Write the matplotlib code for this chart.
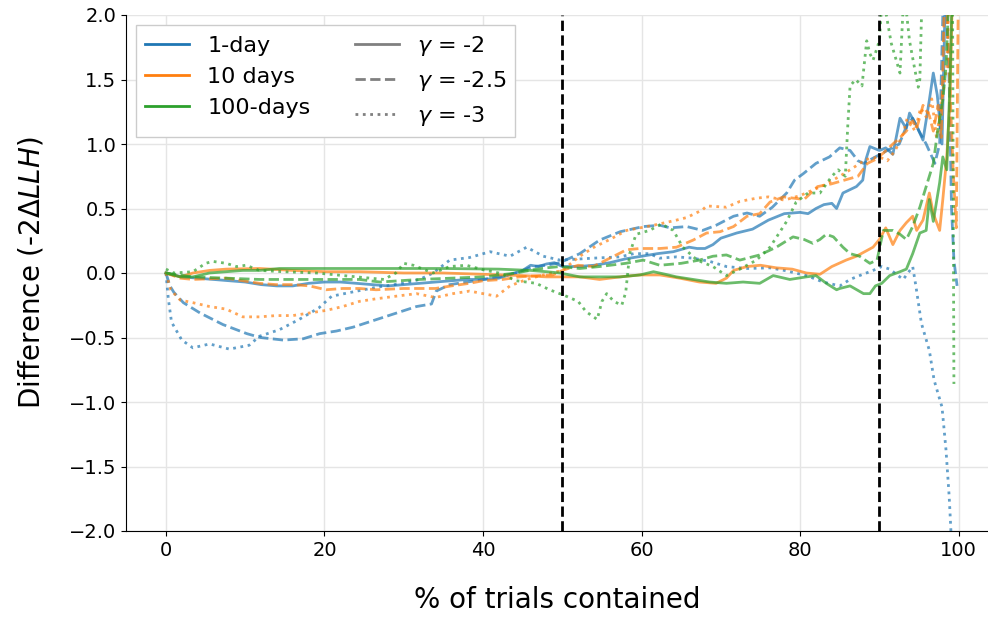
import numpy as np
import matplotlib
matplotlib.use("Agg")
import matplotlib.pyplot as plt
from matplotlib.lines import Line2D

# values, x in % of trials, y in -2*dLLH
x_b2 = [0, 2, 4, 6, 8, 10, 12, 14, 16, 18, 20, 22, 24, 26, 28, 30, 32, 34, 36, 38, 40, 42, 44, 45, 46,
        47, 48, 49, 50, 52, 54, 56, 58, 60, 62, 64, 66, 67, 68, 69, 70, 72, 74, 76, 78, 80, 81, 82, 83,
        84, 84.6, 85.4, 87.1, 87.9, 88.3, 88.8, 90, 90.8, 91.7, 92.6, 93.4, 93.8, 94.7, 95.5, 96.3, 96.8,
        97.3, 97.9, 98.4, 99, 99.6]
y_b2 = [0, -0.03, -0.04, -0.05, -0.06, -0.07, -0.09, -0.1, -0.1, -0.08, -0.07, -0.07, -0.08, -0.09, -0.1,
        -0.09, -0.08, -0.07, -0.06, -0.05, -0.05, -0.04, 0.0, 0.02, 0.06, 0.05, 0.07, 0.08, 0.05, 0.05, 0.06,
        0.08, 0.11, 0.13, 0.15, 0.165, 0.2, 0.19, 0.19, 0.22, 0.27, 0.31, 0.34, 0.41, 0.46, 0.47, 0.46, 0.5,
        0.53, 0.54, 0.5, 0.62, 0.67, 0.72, 0.88, 0.98, 0.95, 0.97, 0.92, 1.2, 1.12, 1.24, 1.14, 1.03, 1.34,
        1.55, 1.38, 1.0, 2.4, 2.6, 2.5]

x_b25 = [0, 0.5, 1, 2.2, 4.3, 7.2, 10.2, 11.9, 14.8, 17.3, 19.4, 21.5, 23.6, 26.6, 29.1, 31.6, 33.5, 34.1,
         35.8, 38, 40, 42, 44.2, 46.3, 48, 49.7, 52.2, 54.7, 57.3, 60.2, 62.3, 63.6, 65.7, 67.7, 69.4, 71.6,
         73.3, 74.9, 76.5, 78.3, 79.3, 80.4, 82, 83.7, 85, 86.3, 87.3, 88, 89.5, 91, 92.5, 93.5, 94.2, 95,
         95.9, 97, 97.6, 98.2, 98.8, 99.1, 99.4, 99.8]
y_b25 = [0, -0.1, -0.15, -0.23, -0.31, -0.4, -0.47, -0.5, -0.52, -0.51, -0.47, -0.45, -0.42, -0.36, -0.31,
         -0.26, -0.24, -0.14, -0.09, -0.07, -0.05, -0.03, 0.0, 0.05, 0.06, 0.08, 0.15, 0.255, 0.32, 0.36,
         0.37, 0.35, 0.36, 0.33, 0.37, 0.44, 0.465, 0.44, 0.51, 0.62, 0.72, 0.77, 0.85, 0.9, 0.97, 0.95,
         0.87, 0.85, 0.9, 0.95, 1.0, 1.15, 1.2, 1.1, 1.0, 0.85, 1.0, 2.5, 1.5, 0.5, 0.1, -0.1]

x_b3 = [0, 0.3, 0.7, 2, 3.4, 5.5, 8, 10.5, 11.8, 14.3, 16.8, 19.3, 20.9, 23.3, 26.6, 29.9, 32, 33.7, 35.8,
        38.3, 40.9, 43.4, 45.5, 47.6, 49.7, 53.9, 57.3, 59, 61, 62.3, 64.4, 66.5, 68.6, 70.7, 73.3, 76.2, 78,
        80.8, 82.9, 85, 86.3, 87.5, 89.2, 90.3, 91.3, 93, 94.2, 94.6, 95.3, 96.3, 96.9, 97.9, 98.4, 98.8,
        99.0, 99.3]
y_b3 = [0, -0.2, -0.38, -0.52, -0.58, -0.55, -0.59, -0.56, -0.49, -0.44, -0.36, -0.27, -0.18, -0.15, -0.11,
        -0.08, -0.05, 0.0, 0.1, 0.12, 0.165, 0.13, 0.2, 0.13, 0.1, 0.115, 0.125, 0.15, 0.15, 0.115, 0.125,
        0.115, 0.09, 0.05, 0.035, 0.04, 0.02, -0.02, -0.07, -0.1, -0.05, -0.02, 0.02, 0.05, 0.03, -0.05,
        0.05, -0.1, -0.39, -0.6, -0.83, -1.04, -1.37, -1.73, -1.97, -2.4]

x_o2 = [0, 1.8, 3.4, 5.5, 7.6, 11.8, 16, 20.2, 24.4, 30, 35, 40, 45, 48, 49.7, 52.2, 54.7, 57.3, 59.8, 62.3,
        64.8, 67.3, 69.4, 70.7, 71.6, 73.3, 75, 77, 79, 80.8, 82.5, 84, 85.8, 87.1, 88.3, 89.2, 90, 90.8,
        91.7, 92.6, 93.4, 94.2, 94.7, 95.5, 96.3, 96.8, 97.6, 98, 98.5, 98.9, 99.3, 99.6]
y_o2 = [0, -0.03, 0, 0.02, 0.03, 0.035, 0.02, 0.01, 0.01, 0.0, 0.0, -0.01, -0.02, -0.03, -0.03, -0.03,
        -0.05, -0.03, -0.015, -0.015, -0.04, -0.07, -0.08, -0.04, 0.02, 0.05, 0.06, 0.04, 0.03, 0.0, -0.01,
        0.05, 0.1, 0.13, 0.17, 0.2, 0.26, 0.35, 0.22, 0.33, 0.39, 0.44, 0.33, 0.41, 0.62, 0.46, 0.33, 0.57,
        0.9, 1.34, 2.4, 2.6]

x_o25 = [0, 1.8, 3.4, 7.6, 11.8, 13.9, 16, 18.1, 20.2, 22.3, 24.4, 26.5, 30, 34, 36, 38.3, 40, 42.5, 44.6,
         47, 48.8, 50, 52, 53.9, 56, 58.1, 59.8, 62.3, 64.4, 66.5, 68.2, 69.9, 71.6, 73.3, 74.9, 76.2, 77.9,
         80.5, 82.2, 83.9, 85.6, 87.3, 88.5, 89.5, 90.5, 91.7, 92.6, 93.4, 94.2, 94.7, 95.5, 96.3, 96.8,
         97.4, 97.8, 98.3, 98.8, 99.3, 99.7, 100]
y_o25 = [0, -0.04, -0.05, -0.04, -0.08, -0.09, -0.09, -0.1, -0.13, -0.12, -0.12, -0.13, -0.12, -0.12, -0.1,
         -0.08, -0.06, -0.05, -0.03, -0.02, -0.015, 0.02, 0.06, 0.05, 0.115, 0.18, 0.19, 0.19, 0.2, 0.255,
         0.31, 0.32, 0.36, 0.44, 0.46, 0.55, 0.59, 0.57, 0.67, 0.69, 0.72, 0.75, 0.85, 0.88, 0.93, 1.0, 1.05,
         1.1, 1.18, 1.12, 1.3, 1.22, 1.1, 1.3, 1.05, 2.4, 1.6, 0.8, 0.35, 2.5]

x_o3 = [0, 0.6, 1.8, 3.4, 5.5, 7.6, 9.7, 11.8, 13.9, 16, 18.1, 20.2, 22.3, 24.4, 26.5, 29, 31.6, 34, 36.2,
        38.3, 40, 41.7, 43.4, 45.5, 47.6, 50, 52.2, 54, 56, 58.1, 61.5, 64.4, 65.7, 67.7, 68.2, 70.7, 72.4,
        74.5, 76, 78, 80, 81.5, 83, 85, 86.3, 88.3, 90, 91, 92, 93, 93.5, 94.5, 95.2, 96, 96.6, 97.2, 97.8,
        98.5, 99, 99.5]
y_o3 = [0, -0.13, -0.21, -0.23, -0.26, -0.28, -0.34, -0.34, -0.33, -0.33, -0.31, -0.29, -0.26, -0.22, -0.2,
        -0.18, -0.16, -0.19, -0.16, -0.14, -0.16, -0.18, -0.1, -0.05, -0.015, 0.02, 0.13, 0.2, 0.26, 0.33,
        0.37, 0.41, 0.43, 0.49, 0.52, 0.51, 0.555, 0.58, 0.59, 0.565, 0.6, 0.64, 0.68, 0.75, 0.8, 0.88, 0.9,
        0.87, 0.95, 1.08, 1.2, 1.1, 1.28, 1.2, 1.35, 1.05, 1.3, 1.6, 2.5, 2.6]

x_g2 = [0, 1.8, 3.4, 5.5, 7.6, 9.7, 11.8, 14.3, 20, 27, 35, 42, 46, 48, 49.7, 52.2, 54.7, 57.3, 59.8, 61.5,
        63, 64.4, 66.5, 68.6, 70.7, 72.8, 74.9, 76.6, 78.7, 80.8, 82, 83.3, 84.6, 85, 86.3, 88, 88.8, 89.5,
        90.3, 91.3, 92.6, 93.4, 94.2, 95.1, 95.9, 96.3, 96.8, 97.6, 98, 98.5, 98.9, 99.3, 99.6]
y_g2 = [0, -0.03, -0.03, 0, 0.01, 0.02, 0.02, 0.035, 0.035, 0.035, 0.035, 0.03, 0.02, 0.01, 0.0, -0.03,
        -0.03, -0.03, -0.015, 0.01, -0.01, -0.03, -0.05, -0.07, -0.08, -0.07, -0.08, -0.02, -0.05, -0.03,
        -0.02, -0.08, -0.13, -0.12, -0.1, -0.16, -0.16, -0.1, -0.08, -0.02, 0.01, 0.03, 0.15, 0.31, 0.33,
        0.57, 0.4, 0.7, 0.9, 0.8, 1.47, 2.5, 2.6]

x_g25 = [0, 3.4, 7.6, 11.8, 16, 20.2, 24.4, 27, 32, 36, 40, 44.2, 46.3, 48, 49.7, 52.2, 54.7, 58, 60.2,
         62.3, 65, 67.3, 69, 70.7, 72.4, 74.9, 77, 79.1, 80.5, 81.6, 82.5, 83.3, 84.2, 85.4, 86.3, 87.5,
         88.8, 89.7, 90.5, 91.7, 92.6, 93.4, 94.2, 95.1, 95.9, 96.8, 97.3, 98, 98.4, 99, 99.6]
y_g25 = [0, -0.03, -0.04, -0.05, -0.05, -0.05, -0.05, -0.07, -0.05, -0.04, -0.03, 0.0, 0.025, 0.04, 0.05,
         0.035, 0.05, 0.075, 0.1, 0.06, 0.075, 0.1, 0.13, 0.14, 0.1, 0.14, 0.2, 0.28, 0.26, 0.23, 0.26, 0.3,
         0.28, 0.2, 0.15, 0.13, 0.075, 0.1, 0.33, 0.33, 0.3, 0.26, 0.36, 0.51, 0.67, 0.85, 1.08, 1.34, 1.6,
         2.5, 2.6]

x_g3 = [0, 1, 3.4, 5, 5.9, 7.6, 8.9, 10.1, 11.8, 14.8, 19, 23.2, 27.5, 29, 30, 31.2, 33.7, 35.8, 37.9, 40,
        42, 44.2, 46.7, 48.4, 50.5, 52, 53, 54.4, 55, 55.6, 56.5, 57.5, 58, 58.5, 59.3, 61, 62.5, 64, 65.2,
        67, 69, 70.7, 72.4, 74.5, 76.2, 78.3, 79.5, 81, 82.5, 84, 84.8, 85.7, 86, 86.3, 87, 87.8, 88.4,
        88.8, 89.2, 90, 90.3, 90.6, 90.9, 91.5, 92.6, 93.1, 93.8, 94.4, 94.9, 95.1, 95.4, 97, 99.2, 99.4]
y_g3 = [0.03, 0.0, 0.01, 0.075, 0.09, 0.075, 0.05, 0.06, 0.02, 0.01, 0.0, -0.025, -0.05, 0.0, 0.075, 0.06,
        0.0, 0.05, 0.06, 0.025, 0.0, -0.06, -0.08, -0.13, -0.18, -0.22, -0.3, -0.36, -0.22, -0.16, -0.22,
        -0.25, -0.15, 0.15, 0.3, 0.33, 0.38, 0.33, 0.2, 0.1, 0.05, -0.02, 0.03, 0.1, 0.2, 0.4, 0.55, 0.62,
        0.62, 0.75, 0.8, 0.75, 1.13, 1.45, 1.5, 1.45, 1.8, 1.7, 1.65, 1.8, 2.1, 2.3, 1.99, 1.78, 1.55, 2.2,
        1.8, 1.6, 1.44, 1.5, 2.2, 2.6, 2.6, -0.86]

datasets = ['1-day', '10 days', '100-days']
gammas = ['-2', '-2.5', '-3']
styles = ['-', '--', ':']
colors = ['tab:blue', 'tab:orange', 'tab:green']
series = {
    ('1-day', '-2'): (x_b2, y_b2), ('1-day', '-2.5'): (x_b25, y_b25), ('1-day', '-3'): (x_b3, y_b3),
    ('10 days', '-2'): (x_o2, y_o2), ('10 days', '-2.5'): (x_o25, y_o25), ('10 days', '-3'): (x_o3, y_o3),
    ('100-days', '-2'): (x_g2, y_g2), ('100-days', '-2.5'): (x_g25, y_g25), ('100-days', '-3'): (x_g3, y_g3),
}
cutoffs = [50, 90]

fig = plt.figure(figsize=(9.88, 6.17), dpi=100)
ax = fig.add_axes([126 / 988, 86 / 617, 862 / 988, 516 / 617])

for d, c in zip(datasets, colors):
    for g, ls in zip(gammas, styles):
        xs, ys = series[(d, g)]
        ax.plot(xs, ys, color=c, ls=ls, lw=2, alpha=0.7)

for xc in cutoffs:
    ax.axvline(xc, color='k', ls='--', lw=2)

ax.set_xlim(-5.04, 103.7)
ax.set_ylim(-2, 2)
ax.set_xticks([0, 20, 40, 60, 80, 100])
ax.set_yticks(np.arange(-2, 2.01, 0.5))
ax.grid(True, color='#e5e5e5', lw=1)
ax.set_axisbelow(True)
for s in ['top', 'right']:
    ax.spines[s].set_visible(False)
ax.tick_params(labelsize=14)
ax.set_xlabel('% of trials contained', fontsize=20, labelpad=19)
ax.set_ylabel(r'Difference (-2$\Delta LLH$)', fontsize=20, labelpad=17)

handles = [Line2D([], [], color=c, lw=2) for c in colors]
handles += [Line2D([], [], color='gray', ls=ls, lw=2) for ls in styles]
labels = datasets + [r'$\gamma$ = ' + g for g in gammas]
ax.legend(handles, labels, ncol=2, loc='upper left', fontsize=16, fancybox=False,
          edgecolor='#cccccc', framealpha=1, borderaxespad=0.45)

fig.savefig('out.png', dpi=100)
